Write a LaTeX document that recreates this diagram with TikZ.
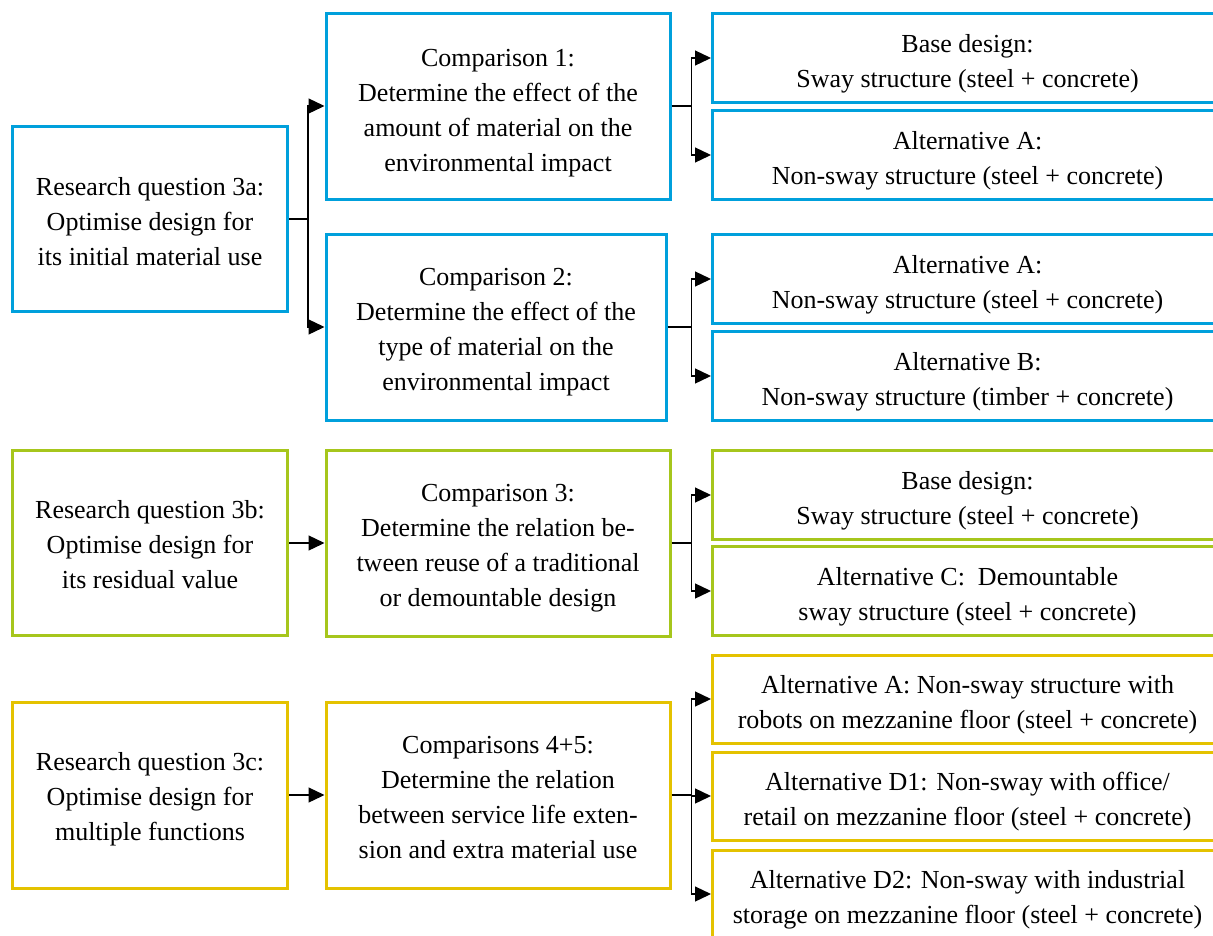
\documentclass[tikz,border=0pt]{standalone}
\usepackage{fontspec}
\setmainfont{Liberation Serif}
\usetikzlibrary{arrows.meta}
\definecolor{cblue}{RGB}{0,160,220}
\definecolor{cgreen}{RGB}{166,198,28}
\definecolor{cyel}{RGB}{228,194,0}
\tikzset{
  bx/.style={draw=#1, line width=3pt, rectangle, inner sep=0pt},
  tx/.style={inner sep=0pt, align=center, font=\fontsize{26pt}{35pt}\selectfont, text=black},
  lbox/.style={minimum width=275pt, minimum height=185pt},
  cbox/.style={minimum width=344pt, minimum height=186pt},
  rbox/.style={minimum width=510pt, minimum height=88.5pt},
  conn/.style={line width=1.3pt, draw=black},
  arr/.style={conn, -{Triangle[length=16pt,width=15pt]}}
}
\begin{document}
\begin{tikzpicture}[x=1pt,y=-1pt]
\clip (0,0) rectangle (1213,935);
% row 1 (blue)
\node[bx=cblue, lbox] (q3a) at (150,219) {};
\node[bx=cblue, cbox] (c1) at (498,106) {};
\node[bx=cblue, cbox, minimum width=340pt] (c2) at (496,327) {};
\node[bx=cblue, rbox] (r1) at (967.5,58) {};
\node[bx=cblue, rbox] (r2) at (967.5,155) {};
\node[bx=cblue, rbox] (r3) at (967.5,279) {};
\node[bx=cblue, rbox] (r4) at (967.5,376) {};
% row 2 (green)
\node[bx=cgreen, lbox] (q3b) at (150,543) {};
\node[bx=cgreen, cbox] (c3) at (498,543) {};
\node[bx=cgreen, rbox] (r5) at (967.5,495) {};
\node[bx=cgreen, rbox] (r6) at (967.5,591) {};
% row 3 (yellow)
\node[bx=cyel, lbox, minimum height=186pt] (q3c) at (150,795) {};
\node[bx=cyel, cbox] (c45) at (498,795) {};
\node[bx=cyel, rbox, minimum height=88pt] (r7) at (967.5,699) {};
\node[bx=cyel, rbox, minimum height=88pt] (r8) at (967.5,796) {};
\node[bx=cyel, rbox, minimum height=88pt] (r9) at (967.5,894) {};
% texts
\node[tx] (q3a-t) at ([yshift=-3pt]q3a.center) {Research question 3a:\\Optimise design for\\its initial material use};
\node[tx] (c1-t) at ([yshift=-7pt]c1.center) {Comparison 1:\\Determine the effect of the\\amount of material on the\\environmental impact};
\node[tx] (c2-t) at ([yshift=-5pt]c2.center) {Comparison 2:\\Determine the effect of the\\type of material on the\\environmental impact};
\node[tx] (r1-t) at ([yshift=-6pt]r1.center) {Base design:\\Sway structure (steel + concrete)};
\node[tx] (r2-t) at ([yshift=-6pt]r2.center) {Alternative A:\\Non-sway structure (steel + concrete)};
\node[tx] (r3-t) at ([yshift=-6pt]r3.center) {Alternative A:\\Non-sway structure (steel + concrete)};
\node[tx] (r4-t) at ([yshift=-6pt]r4.center) {Alternative B:\\Non-sway structure (timber + concrete)};
\node[tx] (q3b-t) at ([yshift=-2pt]q3b.center) {Research question 3b:\\Optimise design for\\its residual value};
\node[tx] (c3-t) at ([yshift=-5pt]c3.center) {Comparison 3:\\Determine the relation be-\\tween reuse of a traditional\\or demountable design};
\node[tx] (r5-t) at ([yshift=-6pt]r5.center) {Base design:\\Sway structure (steel + concrete)};
\node[tx] (r6-t) at ([yshift=-6pt]r6.center) {Alternative C:~ Demountable\\sway structure (steel + concrete)};
\node[tx] (q3c-t) at ([yshift=-4pt]q3c.center) {Research question 3c:\\Optimise design for\\multiple functions};
\node[tx] (c45-t) at ([yshift=-3pt]c45.center) {Comparisons 4+5:\\Determine the relation\\between service life exten-\\sion and extra material use};
\node[tx] (r7-t) at ([yshift=-6pt]r7.center) {Alternative A: Non-sway structure with\\robots on mezzanine floor (steel + concrete)};
\node[tx] (r8-t) at ([yshift=-6pt]r8.center) {Alternative D1: Non-sway with office/\\retail on mezzanine floor (steel + concrete)};
\node[tx] (r9-t) at ([yshift=-6pt]r9.center) {Alternative D2: Non-sway with industrial\\storage on mezzanine floor (steel + concrete)};
% connectors
\draw[conn] (q3a.east) -- ++(19,0) coordinate (j1);
\draw[arr] (j1) |- (c1.west);
\draw[arr] (j1) |- (c2.west);
\draw[conn] (c1.east) -- ++(20,0) coordinate (j2);
\draw[arr] (j2) |- (r1.west);
\draw[arr] (j2) |- (r2.west);
\draw[conn] (c2.east) -- ++(24,0) coordinate (j3);
\draw[arr] (j3) |- (r3.west);
\draw[arr] (j3) |- (r4.west);
\draw[arr] (q3b.east) -- (c3.west);
\draw[conn] (c3.east) -- ++(20,0) coordinate (j4);
\draw[arr] (j4) |- (r5.west);
\draw[arr] (j4) |- (r6.west);
\draw[arr] (q3c.east) -- (c45.west);
\draw[conn] (c45.east) -- ++(20,0) coordinate (j5);
\draw[arr] (j5) |- (r7.west);
\draw[arr] (j5) |- (r8.west);
\draw[arr] (j5) |- (r9.west);
\end{tikzpicture}
\end{document}
